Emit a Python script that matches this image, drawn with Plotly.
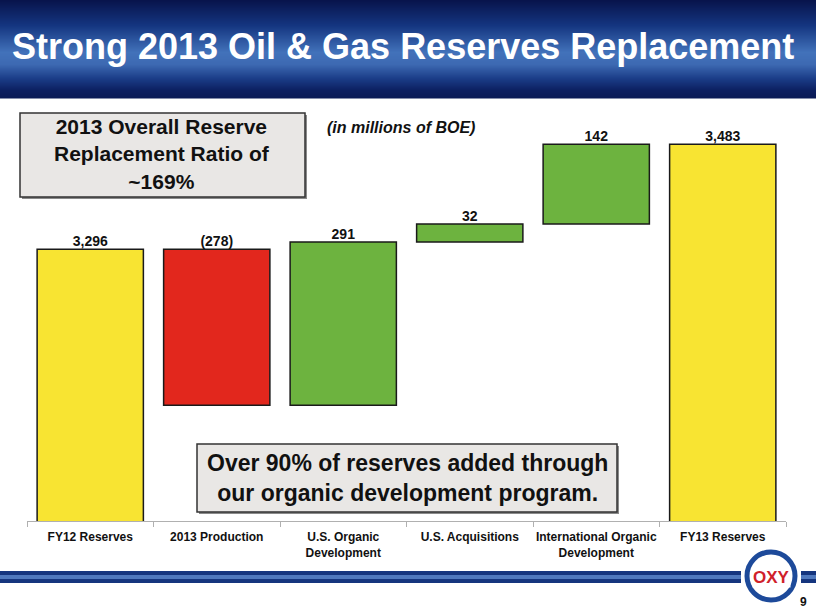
import plotly.graph_objects as go

# ---------------- data ----------------
categories = ["FY12 Reserves", "2013 Production", "U.S. Organic<br>Development",
              "U.S. Acquisitions", "International Organic<br>Development", "FY13 Reserves"]
values = [3296, -278, 291, 32, 142, 3483]
measures = ["absolute", "relative", "relative", "relative", "relative", "total"]
value_labels = ["3,296", "(278)", "291", "32", "142", "3,483"]

title_text = "Strong 2013 Oil &amp; Gas Reserves Replacement"
box1_text = "2013 Overall Reserve<br>Replacement Ratio of<br>~169%"
unit_text = "<i>(in millions of BOE)</i>"
box2_text = "Over 90% of reserves added through<br>our organic development program."

# ---------------- geometry helpers (pixel -> paper) ----------------
W, H = 816, 612
PL, PR, PT, PB = 27, 786, 100, 521


def px(x):
    return (x - PL) / (PR - PL)


def py(y):
    return (PB - y) / (PB - PT)


# bar tops for value labels (computed from the data)
tops = []
cum = 0
for v, m in zip(values, measures):
    if m == "absolute":
        cum = v
        tops.append(v)
    elif m == "total":
        tops.append(cum)
    else:
        prev = cum
        cum += v
        tops.append(max(prev, cum))

YMIN, YMAX = 2812, 3562

fig = go.Figure()
fig.add_trace(go.Waterfall(
    x=categories, y=values, measure=measures,
    width=0.84,
    connector=dict(visible=False),
    increasing=dict(marker=dict(color="#6DB33F", line=dict(color="#1a1a1a", width=1.5))),
    decreasing=dict(marker=dict(color="#E2271D", line=dict(color="#1a1a1a", width=1.5))),
    totals=dict(marker=dict(color="#F8E432", line=dict(color="#1a1a1a", width=1.5))),
    textinfo="none", hoverinfo="x+y", showlegend=False,
))
fig.add_trace(go.Scatter(
    x=categories, y=tops, mode="text", text=["<b>" + t + "</b>" for t in value_labels],
    textposition="top center",
    textfont=dict(family="Liberation Sans, Arial", size=14, color="#111111"),
    showlegend=False, hoverinfo="skip",
))


def hex2rgb(h):
    h = h.lstrip("#")
    return tuple(int(h[i:i + 2], 16) for i in (0, 2, 4))


def mix(c1, c2, t):
    a, b = hex2rgb(c1), hex2rgb(c2)
    return "rgb(%d,%d,%d)" % tuple(round(a[i] + (b[i] - a[i]) * t) for i in range(3))


shapes = []
# header gradient (decorative)
stops = [(0, "#08144c"), (25, "#143580"), (52, "#4272ba"), (64, "#3d69b2"),
         (78, "#1b3d88"), (90, "#0c1f60"), (98, "#0a1a55")]
y = 0.0
step = 1.0
while y < 98:
    for j in range(len(stops) - 1):
        if stops[j][0] <= y < stops[j + 1][0]:
            t = (y - stops[j][0]) / (stops[j + 1][0] - stops[j][0])
            c = mix(stops[j][1], stops[j + 1][1], t)
            break
    shapes.append(dict(type="rect", xref="paper", yref="paper",
                       x0=px(0), x1=px(W), y0=py(y + step + 0.4), y1=py(y),
                       fillcolor=c, line=dict(width=0), layer="below"))
    y += step

# box 1 (with shadow)
shapes.append(dict(type="rect", xref="paper", yref="paper", x0=px(22), x1=px(307),
                   y0=py(199), y1=py(115), fillcolor="#8a8a8a", line=dict(width=0)))
shapes.append(dict(type="rect", xref="paper", yref="paper", x0=px(20), x1=px(305),
                   y0=py(197), y1=py(113), fillcolor="#E9E7E5",
                   line=dict(color="#333333", width=1.5)))
# box 2 (with shadow)
shapes.append(dict(type="rect", xref="paper", yref="paper", x0=px(199), x1=px(619),
                   y0=py(514), y1=py(446), fillcolor="#8a8a8a", line=dict(width=0)))
shapes.append(dict(type="rect", xref="paper", yref="paper", x0=px(197), x1=px(617),
                   y0=py(512), y1=py(444), fillcolor="#E9E7E5",
                   line=dict(color="#333333", width=1.5)))
# bottom blue rule
for (xa, xb) in [(0, 741), (801, 816)]:
    shapes.append(dict(type="rect", xref="paper", yref="paper", x0=px(xa), x1=px(xb),
                       y0=py(583), y1=py(571), fillcolor="#15357e", line=dict(width=0)))
    shapes.append(dict(type="rect", xref="paper", yref="paper", x0=px(xa), x1=px(xb),
                       y0=py(579), y1=py(575), fillcolor="#4f78bd", line=dict(width=0)))
# OXY logo ring
shapes.append(dict(type="circle", xref="paper", yref="paper", x0=px(747), x1=px(795),
                   y0=py(600), y1=py(552), fillcolor="white",
                   line=dict(color="#1d4a9a", width=5)))

annotations = [
    dict(text="<b>" + title_text + "</b>", x=px(403), y=py(46), xref="paper", yref="paper",
         xanchor="center", yanchor="middle", showarrow=False,
         font=dict(family="Liberation Sans, Arial", size=36, color="white")),
    dict(text="<b>" + box1_text + "</b>", x=px(162), y=py(154), xref="paper", yref="paper",
         xanchor="center", yanchor="middle", showarrow=False,
         font=dict(family="Liberation Sans, Arial", size=21, color="#111111")),
    dict(text="<b>" + unit_text + "</b>", x=px(401), y=py(127), xref="paper", yref="paper",
         xanchor="center", yanchor="middle", showarrow=False,
         font=dict(family="Liberation Sans, Arial", size=16, color="#111111")),
    dict(text="<b>" + box2_text + "</b>", x=px(407), y=py(478), xref="paper", yref="paper",
         xanchor="center", yanchor="middle", showarrow=False,
         font=dict(family="Liberation Sans, Arial", size=23, color="#111111")),
    dict(text="<b>OXY</b>", x=px(771), y=py(577), xref="paper", yref="paper",
         xanchor="center", yanchor="middle", showarrow=False, bgcolor="white", borderpad=0,
         font=dict(family="Liberation Sans, Arial", size=17, color="#d0202a")),
    dict(text="<b>9</b>", x=px(803), y=py(602), xref="paper", yref="paper",
         xanchor="center", yanchor="middle", showarrow=False,
         font=dict(family="Liberation Sans, Arial", size=12, color="#111111")),
]

fig.update_layout(
    width=W, height=H,
    margin=dict(l=PL, r=W - PR, t=PT, b=H - PB, autoexpand=False),
    paper_bgcolor="white", plot_bgcolor="white",
    shapes=shapes, annotations=annotations,
    xaxis=dict(showline=True, linecolor="#b0b0b0", linewidth=1, ticks="outside",
               tickson="boundaries", ticklen=5, tickcolor="#b0b0b0", showgrid=False,
               tickangle=0, automargin=False, ticklabelstandoff=5,
               tickfont=dict(family="Liberation Sans, Arial", size=12, color="#111111"),
               fixedrange=True),
    yaxis=dict(range=[YMIN, YMAX], visible=False, fixedrange=True),
)
fig.update_xaxes(ticktext=["<b>" + c + "</b>" for c in categories], tickvals=categories)

fig.write_html("out.html")
